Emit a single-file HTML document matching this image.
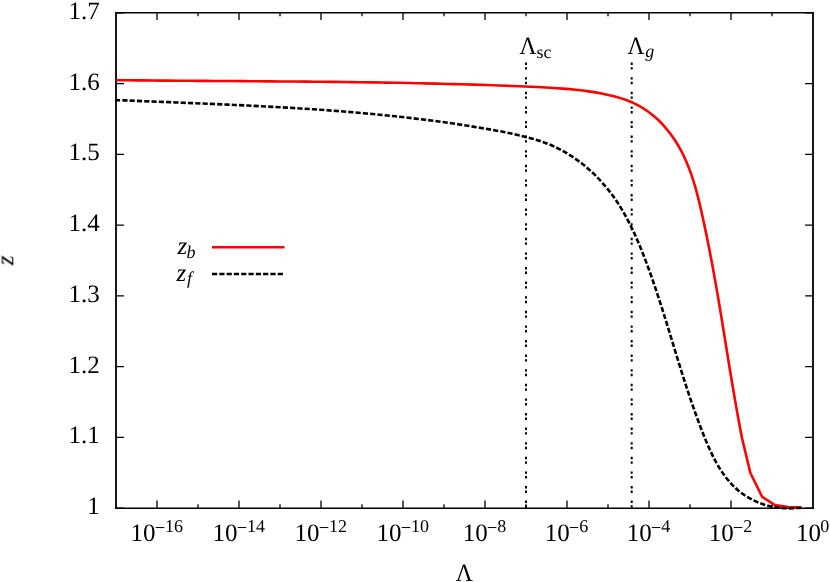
<!DOCTYPE html>
<html><head><meta charset="utf-8"><title>plot</title>
<style>
html,body{margin:0;padding:0;background:#fff;}
svg{display:block;}
text{font-family:"Liberation Serif",serif;fill:#000;text-rendering:geometricPrecision;}
.i{font-style:italic;}
</style></head>
<body>
<svg width="830" height="582" viewBox="0 0 830 582">
<rect width="830" height="582" fill="#fff"/>
<g stroke="#000" stroke-width="1.3" fill="none">
<path d="M157.00,508.2v-7.7M157.00,12.78v7.2"/>
<path d="M198.00,508.2v-3.9M198.00,12.78v3.4"/>
<path d="M239.00,508.2v-7.7M239.00,12.78v7.2"/>
<path d="M280.00,508.2v-3.9M280.00,12.78v3.4"/>
<path d="M321.00,508.2v-7.7M321.00,12.78v7.2"/>
<path d="M362.00,508.2v-3.9M362.00,12.78v3.4"/>
<path d="M403.00,508.2v-7.7M403.00,12.78v7.2"/>
<path d="M444.00,508.2v-3.9M444.00,12.78v3.4"/>
<path d="M485.00,508.2v-7.7M485.00,12.78v7.2"/>
<path d="M526.00,508.2v-3.9M526.00,12.78v3.4"/>
<path d="M567.00,508.2v-7.7M567.00,12.78v7.2"/>
<path d="M608.00,508.2v-3.9M608.00,12.78v3.4"/>
<path d="M649.00,508.2v-7.7M649.00,12.78v7.2"/>
<path d="M690.00,508.2v-3.9M690.00,12.78v3.4"/>
<path d="M731.00,508.2v-7.7M731.00,12.78v7.2"/>
<path d="M772.00,508.2v-3.9M772.00,12.78v3.4"/>
<path d="M116.0,508.20h7.9M813.0,508.20h-7.9"/>
<path d="M116.0,437.43h7.9M813.0,437.43h-7.9"/>
<path d="M116.0,366.65h7.9M813.0,366.65h-7.9"/>
<path d="M116.0,295.88h7.9M813.0,295.88h-7.9"/>
<path d="M116.0,225.10h7.9M813.0,225.10h-7.9"/>
<path d="M116.0,154.33h7.9M813.0,154.33h-7.9"/>
<path d="M116.0,83.55h7.9M813.0,83.55h-7.9"/>
<path d="M116.0,12.78h7.9M813.0,12.78h-7.9"/>
</g>
<path d="M115.1,12.78H813.9M115.1,508.2H813.9" fill="none" stroke="#000" stroke-width="1.6"/><path d="M116.0,11.979999999999999V509.0M813.0,11.979999999999999V509.0" fill="none" stroke="#000" stroke-width="1.8"/>
<path d="M526.0,62.6V508.2" stroke="#000" stroke-width="2" stroke-dasharray="2.4 2.2 2.4 7.6" fill="none"/>
<path d="M631.7,62.6V508.2" stroke="#000" stroke-width="2" stroke-dasharray="2.4 2.2 2.4 7.6" fill="none"/>
<path d="M116.00,80.20C118.13,80.22 124.52,80.26 128.78,80.30C133.03,80.34 137.29,80.38 141.54,80.42C145.80,80.46 150.06,80.50 154.31,80.53C158.57,80.57 162.83,80.60 167.09,80.64C171.34,80.67 175.60,80.70 179.86,80.73C184.12,80.76 188.38,80.79 192.64,80.82C196.90,80.85 201.16,80.88 205.42,80.91C209.68,80.94 213.94,80.96 218.20,80.99C222.46,81.02 226.72,81.04 230.98,81.07C235.24,81.10 239.50,81.13 243.76,81.16C248.02,81.18 252.29,81.21 256.55,81.24C260.81,81.27 265.07,81.30 269.33,81.33C273.59,81.36 277.85,81.39 282.12,81.43C286.38,81.46 290.64,81.49 294.90,81.53C299.16,81.56 303.42,81.60 307.69,81.64C311.95,81.68 316.21,81.72 320.47,81.76C324.73,81.80 328.99,81.85 333.25,81.90C337.52,81.94 341.78,81.99 346.04,82.04C350.30,82.10 354.56,82.15 358.82,82.21C363.08,82.27 367.34,82.33 371.60,82.39C375.86,82.45 380.12,82.52 384.38,82.59C388.64,82.66 392.90,82.73 397.15,82.81C401.41,82.89 405.67,82.97 409.93,83.05C414.19,83.14 418.44,83.22 422.70,83.32C426.96,83.41 431.22,83.51 435.47,83.61C439.73,83.71 443.98,83.82 448.24,83.93C452.49,84.04 456.75,84.15 461.00,84.27C465.26,84.39 469.51,84.52 473.76,84.65C478.02,84.78 482.27,84.92 486.52,85.06C490.77,85.20 495.02,85.35 499.27,85.50C503.52,85.66 507.77,85.82 512.02,85.98C516.27,86.15 520.52,86.32 524.77,86.50C529.01,86.68 533.26,86.85 537.51,87.06C541.75,87.27 546.00,87.48 550.25,87.74C554.50,88.00 558.75,88.29 563.01,88.63C567.26,88.97 571.52,89.35 575.79,89.81C580.05,90.27 584.33,90.77 588.59,91.37C592.86,91.97 597.16,92.62 601.40,93.43C605.63,94.24 609.87,95.13 614.00,96.23C618.13,97.33 622.23,98.56 626.18,100.05C630.13,101.53 634.00,103.20 637.69,105.15C641.38,107.10 644.94,109.32 648.33,111.76C651.71,114.21 654.94,116.92 658.00,119.80C661.06,122.68 663.95,125.80 666.67,129.04C669.38,132.28 671.93,135.72 674.29,139.24C676.65,142.76 678.83,146.44 680.84,150.18C682.86,153.92 684.67,157.77 686.36,161.68C688.06,165.58 689.58,169.58 691.01,173.62C692.43,177.65 693.72,181.76 694.93,185.88C696.15,190.01 697.25,194.19 698.31,198.37C699.37,202.55 700.34,206.76 701.29,210.96C702.25,215.16 703.15,219.36 704.05,223.55C704.94,227.73 705.81,231.91 706.67,236.08C707.52,240.25 708.36,244.41 709.17,248.57C709.99,252.73 710.79,256.88 711.58,261.04C712.36,265.19 713.13,269.35 713.89,273.51C714.64,277.67 715.38,281.83 716.12,286.00C716.85,290.17 717.57,294.34 718.28,298.53C718.99,302.71 719.69,306.90 720.39,311.10C721.09,315.30 721.78,319.51 722.46,323.71C723.15,327.92 723.83,332.14 724.51,336.35C725.19,340.57 725.87,344.79 726.55,349.01C727.23,353.23 727.91,357.45 728.60,361.67C729.29,365.88 729.97,370.10 730.67,374.32C731.37,378.53 732.06,382.75 732.78,386.95C733.49,391.16 734.20,395.37 734.93,399.56C735.66,403.76 736.40,407.95 737.16,412.13C737.91,416.31 738.69,420.47 739.46,424.65C740.24,428.83 741.41,435.11 741.80,437.20L750.40,473.00L762.10,496.80L775.00,505.10L788.30,507.10L801.50,507.60" fill="none" stroke="#f00" stroke-width="2.6" stroke-linejoin="round"/>
<path d="M116.00,100.10C118.19,100.18 124.78,100.40 129.16,100.57C133.55,100.74 137.93,100.93 142.31,101.11C146.69,101.29 151.08,101.46 155.46,101.64C159.85,101.81 164.24,101.99 168.63,102.16C173.01,102.34 177.40,102.51 181.80,102.69C186.19,102.87 190.58,103.05 194.97,103.23C199.36,103.41 203.75,103.59 208.15,103.77C212.54,103.96 216.93,104.15 221.33,104.34C225.72,104.53 230.12,104.73 234.51,104.93C238.91,105.13 243.30,105.34 247.69,105.55C252.09,105.77 256.48,105.98 260.88,106.21C265.27,106.44 269.66,106.67 274.06,106.91C278.45,107.15 282.84,107.40 287.23,107.65C291.62,107.91 296.01,108.18 300.40,108.45C304.79,108.73 309.18,109.01 313.57,109.31C317.96,109.61 322.34,109.91 326.73,110.23C331.11,110.55 335.49,110.88 339.87,111.22C344.26,111.56 348.64,111.92 353.01,112.29C357.39,112.66 361.77,113.04 366.14,113.43C370.52,113.83 374.89,114.24 379.26,114.67C383.63,115.09 388.00,115.53 392.36,115.99C396.73,116.45 401.09,116.92 405.45,117.42C409.81,117.91 414.17,118.42 418.52,118.94C422.88,119.47 427.23,120.02 431.58,120.58C435.92,121.15 440.27,121.73 444.62,122.33C448.96,122.94 453.30,123.56 457.65,124.21C461.99,124.85 466.33,125.52 470.67,126.21C475.01,126.90 479.35,127.61 483.69,128.35C488.03,129.09 492.37,129.85 496.71,130.66C501.04,131.47 505.37,132.31 509.69,133.23C514.01,134.14 518.33,135.10 522.63,136.16C526.92,137.22 531.24,138.30 535.46,139.59C539.69,140.88 543.89,142.27 547.96,143.90C552.03,145.53 556.02,147.36 559.89,149.37C563.76,151.38 567.54,153.58 571.20,155.94C574.86,158.30 578.42,160.84 581.86,163.52C585.29,166.20 588.62,169.04 591.82,172.01C595.02,174.98 598.11,178.11 601.06,181.33C604.01,184.56 606.84,187.93 609.53,191.39C612.22,194.85 614.78,198.43 617.21,202.08C619.64,205.74 621.92,209.50 624.11,213.32C626.29,217.14 628.35,221.05 630.33,225.00C632.31,228.95 634.18,232.97 635.98,237.01C637.79,241.06 639.50,245.16 641.17,249.26C642.84,253.36 644.43,257.50 645.99,261.63C647.56,265.77 649.07,269.91 650.55,274.05C652.02,278.20 653.46,282.35 654.87,286.50C656.28,290.66 657.66,294.81 659.01,298.98C660.37,303.14 661.70,307.30 663.01,311.47C664.33,315.64 665.62,319.81 666.91,323.98C668.20,328.16 669.48,332.33 670.75,336.51C672.03,340.69 673.30,344.87 674.58,349.04C675.85,353.22 677.13,357.40 678.42,361.58C679.71,365.76 681.01,369.94 682.33,374.12C683.65,378.30 684.98,382.48 686.35,386.66C687.71,390.83 689.09,395.01 690.51,399.18C691.93,403.35 693.37,407.53 694.86,411.69C696.35,415.86 697.87,420.03 699.44,424.19C701.01,428.35 702.61,432.53 704.29,436.66C705.97,440.80 707.68,444.96 709.53,449.00C711.38,453.05 713.29,457.07 715.39,460.93C717.48,464.79 719.68,468.57 722.11,472.14C724.54,475.71 727.11,479.16 729.95,482.34C732.79,485.52 735.82,488.53 739.15,491.22C742.48,493.91 746.11,496.37 749.93,498.48C753.75,500.59 757.89,502.43 762.09,503.88C766.29,505.34 770.72,506.47 775.11,507.21C779.50,507.95 784.04,508.24 788.44,508.32C792.84,508.40 799.32,507.80 801.50,507.70" fill="none" stroke="#000" stroke-width="2.6" stroke-dasharray="5.2 2.1" stroke-dashoffset="1" stroke-linejoin="round"/>
<path d="M212,247.2H284.5" stroke="#f00" stroke-width="2.6"/>
<path d="M212,274.0H284" stroke="#000" stroke-width="2.6" stroke-dasharray="5.2 2.1"/>
<g opacity="0.999">
<text x="99.8" y="514.0" font-size="25" text-anchor="end">1</text>
<text x="99.8" y="443.3" font-size="25" text-anchor="end">1.1</text>
<text x="99.8" y="372.6" font-size="25" text-anchor="end">1.2</text>
<text x="99.8" y="301.9" font-size="25" text-anchor="end">1.3</text>
<text x="99.8" y="231.1" font-size="25" text-anchor="end">1.4</text>
<text x="99.8" y="160.4" font-size="25" text-anchor="end">1.5</text>
<text x="99.8" y="89.7" font-size="25" text-anchor="end">1.6</text>
<text x="99.8" y="19.0" font-size="25" text-anchor="end">1.7</text>
<text x="130.60" y="541.1" font-size="25">10</text><path d="M155.70,527.55h8.6" stroke="#000" stroke-width="1"/><text x="165.10" y="532.3" font-size="18">16</text>
<text x="212.60" y="541.1" font-size="25">10</text><path d="M237.70,527.55h8.6" stroke="#000" stroke-width="1"/><text x="247.10" y="532.3" font-size="18">14</text>
<text x="294.60" y="541.1" font-size="25">10</text><path d="M319.70,527.55h8.6" stroke="#000" stroke-width="1"/><text x="329.10" y="532.3" font-size="18">12</text>
<text x="376.60" y="541.1" font-size="25">10</text><path d="M401.70,527.55h8.6" stroke="#000" stroke-width="1"/><text x="411.10" y="532.3" font-size="18">10</text>
<text x="462.65" y="541.1" font-size="25">10</text><path d="M487.75,527.55h8.6" stroke="#000" stroke-width="1"/><text x="497.15" y="532.3" font-size="18">8</text>
<text x="544.65" y="541.1" font-size="25">10</text><path d="M569.75,527.55h8.6" stroke="#000" stroke-width="1"/><text x="579.15" y="532.3" font-size="18">6</text>
<text x="626.65" y="541.1" font-size="25">10</text><path d="M651.75,527.55h8.6" stroke="#000" stroke-width="1"/><text x="661.15" y="532.3" font-size="18">4</text>
<text x="708.65" y="541.1" font-size="25">10</text><path d="M733.75,527.55h8.6" stroke="#000" stroke-width="1"/><text x="743.15" y="532.3" font-size="18">2</text>
<text x="795.90" y="541.1" font-size="25">10</text><text x="820.20" y="532.3" font-size="18">0</text>
<text transform="translate(464.2,580.9) scale(0.94,1)" font-size="25" text-anchor="middle">Λ</text>
<text class="i" transform="translate(13.3,260.5) rotate(-90)" font-size="25" text-anchor="middle">z</text>
<text transform="translate(527.9,53.8) scale(0.94,1)" font-size="25" text-anchor="middle">Λ</text><text x="536.6" y="57.5" font-size="18">sc</text>
<text transform="translate(636.1,53.8) scale(0.94,1)" font-size="25" text-anchor="middle">Λ</text><text class="i" x="645.2" y="57.3" font-size="18">g</text>
<text class="i" x="177.5" y="253.8" font-size="25">z</text><text class="i" x="186.6" y="257.6" font-size="18">b</text>
<text class="i" x="176.5" y="280.8" font-size="25">z</text><text class="i" x="187.1" y="283.5" font-size="18">f</text>
</g>
</svg>
</body></html>
